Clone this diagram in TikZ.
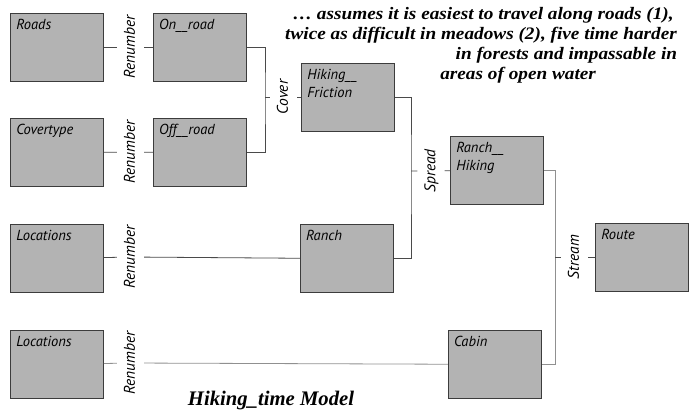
\documentclass[tikz,border=0pt]{standalone}
\usepackage{fontspec}
\setmainfont{Liberation Serif}
\newfontfamily\handfont{PT Sans}
\usepackage{xcolor}
\definecolor{hkFill}{HTML}{B3B3B3}
\definecolor{hkEdge}{HTML}{3C3C3C}
\definecolor{hkWire}{HTML}{4A4A4A}
\definecolor{hkPale}{HTML}{909090}
\usepackage{tikz}
\usetikzlibrary{positioning}

\begin{document}
\begin{tikzpicture}[x=1pt,y=-1pt,
      every node/.style={font=\handfont\itshape\fontsize{15.5}{18}\selectfont},
      layer/.style={rectangle,draw=hkEdge,fill=hkFill,line width=0.8pt,
                    minimum width=93pt,minimum height=68pt,inner sep=0pt},
      tag/.style={anchor=north west,inner sep=0pt,xshift=6pt,yshift=-6pt,
                  align=left,font=\handfont\itshape\fontsize{14.5}{18}\selectfont},
      op/.style={rotate=90,inner xsep=0pt,inner ysep=5.75pt,
                 text height=12pt,text depth=3.5pt},
      wire/.style={hkWire,line width=0.8pt},
      pale/.style={hkPale,line width=0.8pt},
      title/.style={anchor=base,font=\rmfamily\bfseries\itshape\fontsize{20.7}{24}\selectfont},
      note/.style={anchor=north west,align=left,inner sep=0pt,transform shape,
                   font=\rmfamily\bfseries\itshape\fontsize{17.5}{20}\selectfont},
    ]
    \useasboundingbox (0,0) rectangle (692,415);

    % Map layers
    \node[layer,label={[tag]north west:Roads}] (roads) at (57,47) {};
    \node[layer,label={[tag]north west:On\_\_road},right=49pt of roads] (onroad) {};
    \node[layer,label={[tag]north west:Covertype},below=37pt of roads] (covert) {};
    \node[layer,label={[tag]north west:Off\_\_road},right=49pt of covert] (offroad) {};
    \node[layer,label={[tag]north west:Locations},below=37pt of covert] (locA) {};
    \node[layer,label={[tag]north west:Locations},below=37pt of locA] (locB) {};
    \node[layer,label={[tag]north west:{Hiking\_\_\\Friction}}] (hfric) at (348,97) {};
    \node[layer,label={[tag]north west:Ranch},right=196pt of locA] (ranch) {};
    \node[layer,label={[tag]north west:{Ranch\_\_\\Hiking}}] (rhike) at (497,170) {};
    \node[layer,label={[tag]north west:Cabin},right=344pt of locB] (cabin) {};
    \node[layer,label={[tag]north west:Route}] (route) at (642,257) {};

    % Operations
    \node[op] (rnA) at (130.5,47) {Renumber};
    \node[op] (rnB) at (130.5,152) {Renumber};
    \node[op] (rnC) at (130.5,257) {Renumber};
    \node[op] (rnD) at (130.5,363) {Renumber};
    \node[op] (cover) at (283.5,97) {Cover};
    \node[op] (spread) at (431,171) {Spread};
    \node[op] (stream) at (574.5,257) {Stream};

    \coordinate (cj) at (265,97);
    \coordinate (sj) at (411,171);
    \coordinate (tj) at (555,257);

    % Connections
    \draw[wire] (roads) -- (rnA) -- (onroad);
    \draw[wire] (covert) -- (rnB) -- (offroad);
    \draw[wire] (locA) -- (rnC) -- (ranch);
    \draw[pale] (locB) -- (rnD) -- (cabin);
    \draw[wire] (onroad) -| (cj) |- (offroad);
    \draw[wire] (cj) -- (cover) -- (hfric);
    \draw[wire] (hfric) -| (sj) |- (ranch);
    \draw[wire] (sj) -- (spread) -- (rhike);
    \draw[pale] (rhike) -| (tj) |- (cabin);
    \draw[wire] (tj) -- (stream) -- (route);

    % Texts
    \begin{scope}[shift={(285,7)},xscale=1.10]
      \node[note] (rule) at (0,0) {\hspace*{7pt}… assumes it is easiest to travel along roads (1),\\
        twice as difficult in meadows (2), five time harder\\
        \hspace*{155pt}in forests and impassable in\\
        \hspace*{141pt}areas of open water};
    \end{scope}
    \node[title] (ttl) at (271,405) {Hiking\_time Model};
  \end{tikzpicture}
\end{document}
